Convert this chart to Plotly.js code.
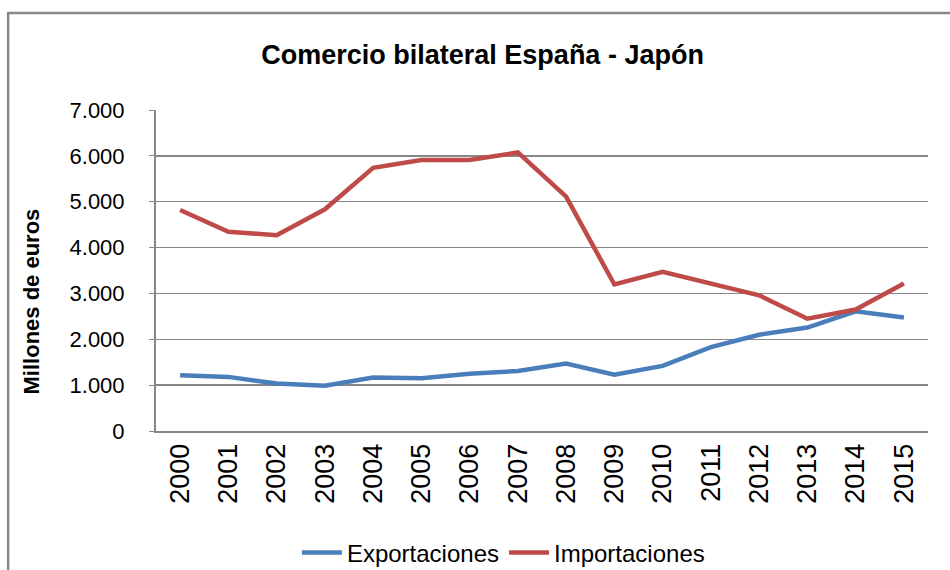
<!DOCTYPE html>
<html>
<head>
<meta charset="utf-8">
<script src="https://cdn.plot.ly/plotly-3.0.1.min.js"></script>
<style>html,body{margin:0;padding:0;background:#fff;}#chart{width:950px;height:570px;}</style>
</head>
<body>
<div id="chart"></div>
<script>
const years = ["2000","2001","2002","2003","2004","2005","2006","2007","2008","2009","2010","2011","2012","2013","2014","2015"];
const exportaciones = [1215,1180,1035,985,1165,1150,1250,1310,1470,1230,1420,1830,2100,2255,2610,2475];
const importaciones = [4820,4345,4270,4835,5740,5910,5910,6075,5110,3195,3470,3215,2960,2450,2650,3215];
const tickVals = [0,1000,2000,3000,4000,5000,6000,7000];
const tickText = ["0","1.000","2.000","3.000","4.000","5.000","6.000","7.000"];

const sans = "Liberation Sans, Arial, sans-serif";
const traces = [
  {x: years, y: exportaciones, type: "scatter", mode: "lines", name: "Exportaciones",
   line: {color: "#4A7EBB", width: 4.5}},
  {x: years, y: importaciones, type: "scatter", mode: "lines", name: "Importaciones",
   line: {color: "#BE4B48", width: 4.5}}
];
const layout = {
  width: 950, height: 570,
  margin: {l: 156, r: 22, t: 110, b: 139},
  paper_bgcolor: "#fff", plot_bgcolor: "#fff",
  title: {text: "<b>Comercio bilateral España - Japón</b>", x: 0.508, xanchor: "center",
          y: 0.905, yanchor: "middle", font: {family: sans, size: 27, color: "#000"}},
  xaxis: {type: "category", range: [-0.5, 15.5], showgrid: false, zeroline: false, automargin: false,
          showline: true, linecolor: "#878787", linewidth: 2, tickangle: -90,
          ticks: "", tickfont: {family: sans, size: 27, color: "#000"}},
  yaxis: {range: [0, 7000], tickvals: tickVals, ticktext: tickText, showgrid: true, automargin: false,
          gridcolor: "#878787", gridwidth: 1.5, zeroline: false, showline: true,
          linecolor: "#878787", linewidth: 2, ticks: "outside", ticklen: 5, tickcolor: "#878787",
          ticklabelstandoff: 20,
          tickfont: {family: sans, size: 22, color: "#000"}},
  annotations: [{text: "<b>Millones de euros</b>", xref: "paper", yref: "paper",
                 x: -0.16, y: 0.405, xanchor: "center", yanchor: "middle", textangle: -90,
                 showarrow: false, font: {family: sans, size: 22, color: "#000"}}],
  legend: {orientation: "h", x: 0.45, xanchor: "center", xref: "paper", yref: "container",
           y: 0.03, yanchor: "middle",
           font: {family: sans, size: 24, color: "#000"}, itemwidth: 40, traceorder: "normal"},
  shapes: [{type: "rect", xref: "paper", yref: "paper", x0: -0.1915, x1: 1.2, y0: -0.6, y1: 1.302,
            line: {color: "#878787", width: 2.5}, fillcolor: "rgba(0,0,0,0)", layer: "below"}],
  showlegend: true
};
Plotly.newPlot("chart", traces, layout, {displayModeBar: false, staticPlot: true});
</script>
</body>
</html>
